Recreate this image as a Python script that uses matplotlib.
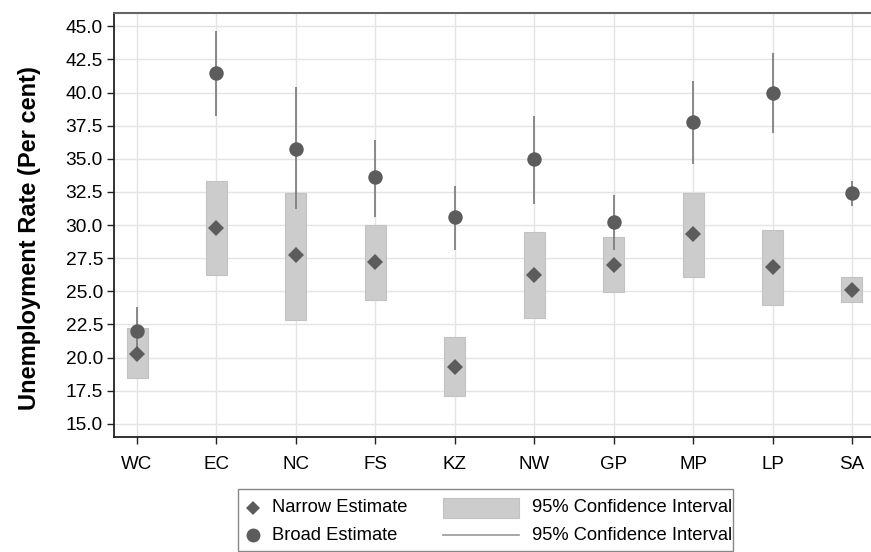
import matplotlib
matplotlib.use("Agg")
import matplotlib.pyplot as plt
from matplotlib.patches import Rectangle
from matplotlib.lines import Line2D
import numpy as np

plt.rcParams['font.family'] = ['Liberation Sans', 'DejaVu Sans']

provinces = ["WC", "EC", "NC", "FS", "KZ", "NW", "GP", "MP", "LP", "SA"]
narrow = [20.3, 29.8, 27.7, 27.2, 19.3, 26.2, 27.0, 29.3, 26.8, 25.1]
narrow_lo = [18.45, 26.25, 22.85, 24.35, 17.1, 23.0, 24.95, 26.05, 23.95, 24.2]
narrow_hi = [22.2, 33.3, 32.45, 30.0, 21.55, 29.5, 29.1, 32.45, 29.65, 26.1]
broad = [22.0, 41.5, 35.75, 33.6, 30.6, 34.95, 30.2, 37.8, 39.95, 32.4]
broad_lo = [20.2, 38.2, 31.2, 30.6, 28.1, 31.6, 28.15, 34.6, 36.95, 31.4]
broad_hi = [23.8, 44.65, 40.4, 36.4, 32.95, 38.2, 32.25, 40.85, 43.0, 33.35]
yticks = [15.0, 17.5, 20.0, 22.5, 25.0, 27.5, 30.0, 32.5, 35.0, 37.5, 40.0, 42.5, 45.0]

W, H = 871, 552
fig = plt.figure(figsize=(W / 100, H / 100), dpi=100)
ax = fig.add_axes([114 / W, 1 - 437 / H, (W - 114) / W, (437 - 13) / H])

x = np.arange(len(provinces))
ax.set_xlim(-0.29, 9.24)
ax.set_ylim(14.0, 46.0)

ax.set_axisbelow(True)
ax.grid(True, color="#e4e4e4", linewidth=1.0)

ax.bar(x, np.array(narrow_hi) - np.array(narrow_lo), bottom=narrow_lo, width=0.265,
       color="#cccccc", edgecolor="#c2c2c2", linewidth=0.8, zorder=2)
ax.vlines(x, broad_lo, broad_hi, color="#777777", linewidth=1.2, zorder=3)
ax.plot(x, narrow, linestyle="none", marker="D", markersize=8.3,
        color="#5c5c5c", markeredgewidth=0, zorder=4)
ax.plot(x, broad, linestyle="none", marker="o", markersize=10.4,
        color="#5c5c5c", markeredgewidth=0, zorder=5)

ax.set_xticks(x)
ax.set_xticklabels(provinces, fontsize=13.5)
ax.set_yticks(yticks)
ax.set_yticklabels([f"{v:.1f}" for v in yticks], fontsize=13.8)
ax.tick_params(axis="both", direction="out", length=5, width=1, color="#222222")
ax.tick_params(axis="x", pad=9)
ax.tick_params(axis="y", pad=3)

for s in ["left", "bottom"]:
    ax.spines[s].set_color("#222222")
    ax.spines[s].set_linewidth(1.3)
ax.spines["top"].set_color("#666666")
ax.spines["top"].set_linewidth(1.5)
ax.spines["right"].set_visible(False)

fig.text(30 / W, 1 - 238 / H, "Unemployment Rate (Per cent)", rotation=90,
         fontsize=17, fontweight="bold", ha="center", va="center")

# Legend (manual layout)
def fx(px):
    return px / W

def fy(py):
    return 1 - py / H

frame = Rectangle((fx(238), fy(551)), fx(733) - fx(238), fy(489) - fy(551),
                  transform=fig.transFigure, fill=False, edgecolor="#888888", linewidth=1.0)
fig.patches.append(frame)
fig.lines.append(Line2D([fx(253)], [fy(508)], transform=fig.transFigure, marker="D",
                        markersize=7, color="#5c5c5c", markeredgewidth=0, linestyle="none"))
fig.lines.append(Line2D([fx(253)], [fy(535)], transform=fig.transFigure, marker="o",
                        markersize=10, color="#5c5c5c", markeredgewidth=0, linestyle="none"))
fig.patches.append(Rectangle((fx(443), fy(518)), fx(519) - fx(443), fy(498) - fy(518),
                             transform=fig.transFigure, facecolor="#cccccc",
                             edgecolor="#c2c2c2", linewidth=0.8))
fig.lines.append(Line2D([fx(443), fx(519)], [fy(535), fy(535)], transform=fig.transFigure,
                        color="#999999", linewidth=1.2))
fs = 13.2
fig.text(fx(272), fy(508), "Narrow Estimate", fontsize=fs, va="center", ha="left")
fig.text(fx(272), fy(535), "Broad Estimate", fontsize=fs, va="center", ha="left")
fig.text(fx(532), fy(508), "95% Confidence Interval", fontsize=fs, va="center", ha="left")
fig.text(fx(532), fy(535), "95% Confidence Interval", fontsize=fs, va="center", ha="left")

fig.savefig("out.png", dpi=100)
